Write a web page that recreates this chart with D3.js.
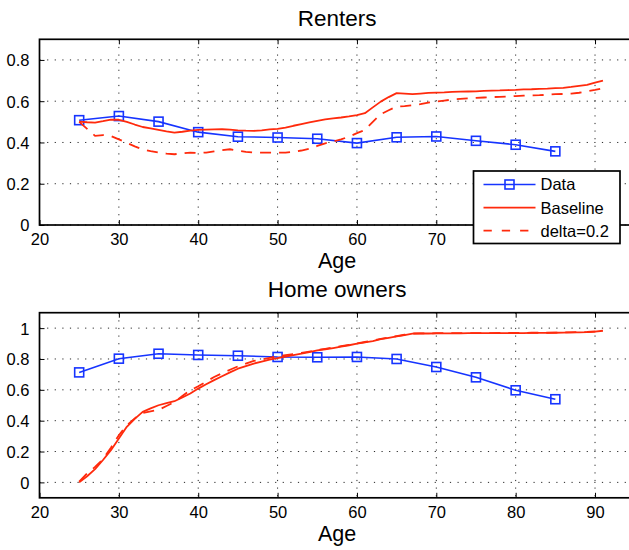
<!DOCTYPE html>
<html>
<head>
<meta charset="utf-8">
<script src="https://cdn.jsdelivr.net/npm/d3@7"></script>
<style>
  html, body { margin: 0; padding: 0; background: #fff; }
  svg { display: block; font-family: "Liberation Sans", Arial, Helvetica, sans-serif; }
</style>
</head>
<body>
<svg id="chart" width="629" height="550"></svg>
<script>
// Survey ages (five-year groups) and the model's yearly ages
const dataAges = [25, 30, 35, 40, 45, 50, 55, 60, 65, 70, 75, 80, 85];
const modelAges = [25, 26, 27, 28, 29, 30, 31, 32, 33, 34, 35, 36, 37, 38, 39, 40,
  41, 42, 43, 44, 45, 46, 47, 48, 49, 50, 51, 52, 53, 54, 55, 56, 57, 58, 59, 60,
  61, 62, 63, 64, 65, 66, 67, 68, 69, 70, 71, 72, 73, 74, 75, 76, 77, 78, 79, 80,
  81, 82, 83, 84, 85, 86, 87, 88, 89, 90, 91];

// Renters
const renterData = [0.508, 0.528, 0.501, 0.450, 0.428, 0.424, 0.418, 0.397, 0.425, 0.429, 0.408, 0.389, 0.357];
const renterBaseline = [0.501, 0.498, 0.496, 0.503, 0.511, 0.510, 0.500, 0.487, 0.475, 0.468,
  0.461, 0.454, 0.448, 0.452, 0.457, 0.461, 0.462, 0.463, 0.464, 0.462,
  0.459, 0.457, 0.456, 0.459, 0.463, 0.466, 0.472, 0.481, 0.489, 0.497,
  0.505, 0.512, 0.517, 0.521, 0.526, 0.533, 0.542, 0.570, 0.598, 0.620,
  0.639, 0.637, 0.634, 0.637, 0.640, 0.642, 0.643, 0.645, 0.646, 0.647,
  0.648, 0.650, 0.651, 0.652, 0.654, 0.655, 0.657, 0.658, 0.660, 0.661,
  0.663, 0.665, 0.669, 0.674, 0.679, 0.690, 0.700];
const renterDelta = [0.500, 0.466, 0.432, 0.436, 0.431, 0.415, 0.398, 0.381, 0.366, 0.358,
  0.351, 0.346, 0.343, 0.347, 0.351, 0.349, 0.351, 0.357, 0.363, 0.367,
  0.360, 0.354, 0.351, 0.351, 0.351, 0.351, 0.351, 0.355, 0.361, 0.370,
  0.383, 0.396, 0.404, 0.415, 0.428, 0.445, 0.460, 0.500, 0.537, 0.556,
  0.574, 0.576, 0.580, 0.586, 0.593, 0.598, 0.603, 0.608, 0.611, 0.614,
  0.616, 0.618, 0.620, 0.621, 0.623, 0.625, 0.627, 0.628, 0.629, 0.631,
  0.634, 0.635, 0.637, 0.641, 0.648, 0.655, 0.663];

// Home owners
const ownerData = [0.713, 0.802, 0.834, 0.826, 0.821, 0.813, 0.811, 0.813, 0.800, 0.748, 0.681, 0.597, 0.539];
const ownerBaseline = [0.000, 0.040, 0.086, 0.145, 0.209, 0.284, 0.360, 0.412, 0.457, 0.480,
  0.500, 0.513, 0.526, 0.550, 0.576, 0.608, 0.636, 0.663, 0.688, 0.713,
  0.737, 0.754, 0.770, 0.783, 0.795, 0.806, 0.816, 0.825, 0.834, 0.845,
  0.856, 0.863, 0.871, 0.880, 0.889, 0.899, 0.907, 0.916, 0.928, 0.937,
  0.946, 0.955, 0.964, 0.965, 0.965, 0.966, 0.966, 0.966, 0.966, 0.967,
  0.967, 0.967, 0.967, 0.968, 0.968, 0.968, 0.968, 0.969, 0.969, 0.969,
  0.970, 0.971, 0.972, 0.973, 0.974, 0.977, 0.983];
const ownerDelta = [0.005, 0.058, 0.100, 0.150, 0.225, 0.306, 0.370, 0.415, 0.450, 0.460,
  0.470, 0.495, 0.521, 0.560, 0.597, 0.623, 0.653, 0.683, 0.707, 0.730,
  0.752, 0.770, 0.787, 0.797, 0.807, 0.817, 0.825, 0.832, 0.839, 0.848,
  0.858, 0.866, 0.874, 0.883, 0.892, 0.901, 0.910, 0.919, 0.930, 0.939,
  0.948, 0.957, 0.965, 0.966, 0.966, 0.967, 0.967, 0.967, 0.967, 0.968,
  0.968, 0.968, 0.968, 0.969, 0.969, 0.969, 0.969, 0.970, 0.970, 0.970,
  0.971, 0.972, 0.973, 0.974, 0.975, 0.978, 0.984];

const xTicks = [20, 30, 40, 50, 60, 70, 80, 90];
const renterYTicks = [0, 0.2, 0.4, 0.6, 0.8];
const ownerYTicks = [0, 0.2, 0.4, 0.6, 0.8, 1];
const seriesNames = ["Data", "Baseline", "delta=0.2"];

const BLUE = "rgb(22,52,255)";
const RED = "rgb(255,42,12)";
const FONT_TICK = 16.5;

const svg = d3.select("#chart");

function panel(opts) {
  const { top, bottom, yDomain, yTicks, title, titleY, data, base, delta, legend } = opts;
  const left = 39.5, right = 634.7;
  const x = d3.scaleLinear().domain([20, 95]).range([left, right]);
  const y = d3.scaleLinear().domain(yDomain).range([bottom, top]);
  const g = svg.append("g");

  // dotted grid
  const grid = g.append("g").attr("stroke", "#2a2a2a").attr("stroke-width", 1)
    .attr("stroke-dasharray", "1.2,6.4");
  grid.selectAll("line.v").data(xTicks.slice(1)).join("line")
    .attr("x1", d => x(d)).attr("x2", d => x(d)).attr("y1", top).attr("y2", bottom);
  grid.selectAll("line.h").data(yTicks).join("line")
    .attr("x1", left).attr("x2", right).attr("y1", d => y(d)).attr("y2", d => y(d));

  // axes: bottom and left with inward ticks, top mirror ticks
  const xAxis = d3.axisBottom(x).tickValues(xTicks).tickFormat(d3.format("d"))
    .tickSizeInner(-5).tickSizeOuter(0).tickPadding(12);
  const gx = g.append("g").attr("transform", `translate(0,${bottom})`).call(xAxis);
  const xTop = d3.axisTop(x).tickValues(xTicks.slice(1)).tickFormat("")
    .tickSizeInner(-5).tickSizeOuter(0);
  const gxt = g.append("g").attr("transform", `translate(0,${top})`).call(xTop);
  const yAxis = d3.axisLeft(y).tickValues(yTicks).tickFormat(d => d === 0 ? "0" : d === 1 ? "1" : d3.format(".1f")(d))
    .tickSizeInner(-5).tickSizeOuter(0).tickPadding(10);
  const gy = g.append("g").attr("transform", `translate(${left},0)`).call(yAxis);
  [gx, gxt, gy].forEach(a => {
    a.select(".domain").remove();
    a.selectAll(".tick line").attr("stroke", "#000").attr("stroke-width", 1);
    a.selectAll("text").attr("fill", "#000").attr("font-size", FONT_TICK)
      .attr("font-family", "Liberation Sans, Arial, sans-serif");
  });
  gx.selectAll("text").attr("dy", "0.78em").attr("y", 7);
  gy.selectAll("text").attr("dy", "0.36em");

  // frame
  g.append("rect").attr("x", left).attr("y", top).attr("width", right - left).attr("height", bottom - top)
    .attr("fill", "none").attr("stroke", "#000").attr("stroke-width", 1.7);

  const line = d3.line().x(d => x(d[0])).y(d => y(d[1]));
  const plot = g.append("g");
  plot.append("path").datum(d3.zip(dataAges, data)).attr("d", line)
    .attr("fill", "none").attr("stroke", BLUE).attr("stroke-width", 1.6);
  plot.selectAll("rect.mk").data(d3.zip(dataAges, data)).join("rect")
    .attr("x", d => x(d[0]) - 4.5).attr("y", d => y(d[1]) - 4.5)
    .attr("width", 9).attr("height", 9)
    .attr("fill", "none").attr("stroke", BLUE).attr("stroke-width", 1.6);
  plot.append("path").datum(d3.zip(modelAges, base)).attr("d", line)
    .attr("fill", "none").attr("stroke", RED).attr("stroke-width", 1.8).attr("stroke-linejoin", "round");
  plot.append("path").datum(d3.zip(modelAges, delta)).attr("d", line)
    .attr("fill", "none").attr("stroke", RED).attr("stroke-width", 1.8)
    .attr("stroke-dasharray", "11,8");

  // title and x label
  const cx = (left + right) / 2;
  g.append("text").attr("x", cx).attr("y", titleY).attr("text-anchor", "middle")
    .attr("font-size", 22.5).text(title);
  g.append("text").attr("x", cx).attr("y", bottom + 43).attr("text-anchor", "middle")
    .attr("font-size", 21.5).text("Age");

  if (legend) {
    const lx = 473.5, ly = 171, lw = 146.5, lh = 72.5;
    // tick labels lying beneath the opaque legend box are not drawn
    gx.selectAll(".tick").filter(d => x(d) > lx && x(d) < lx + lw).select("text").remove();

    const lg = g.append("g").attr("transform", `translate(${lx},${ly})`);
    lg.append("rect").attr("width", lw).attr("height", lh)
      .attr("fill", "#fff").attr("stroke", "#000").attr("stroke-width", 1.7);
    const rows = [13.5, 36.7, 59.7];
    const styles = [
      { stroke: BLUE, dash: null, marker: true },
      { stroke: RED, dash: null, marker: false },
      { stroke: RED, dash: "8.3,10", marker: false }
    ];
    seriesNames.forEach((name, i) => {
      const s = styles[i];
      lg.append("line").attr("x1", 10).attr("x2", 62).attr("y1", rows[i]).attr("y2", rows[i])
        .attr("stroke", s.stroke).attr("stroke-width", 1.7)
        .attr("stroke-dasharray", s.dash);
      if (s.marker) {
        lg.append("rect").attr("x", 36 - 4.5).attr("y", rows[i] - 4.5).attr("width", 9).attr("height", 9)
          .attr("fill", "none").attr("stroke", BLUE).attr("stroke-width", 1.6);
      }
      lg.append("text").attr("x", 67).attr("y", rows[i]).attr("dy", "0.36em")
        .attr("font-size", FONT_TICK).text(name);
    });
  }
}

panel({ top: 39.3, bottom: 225, yDomain: [0, 0.9], yTicks: renterYTicks, title: "Renters", titleY: 26,
  data: renterData, base: renterBaseline, delta: renterDelta, legend: true });
panel({ top: 312.7, bottom: 497.8, yDomain: [-0.1, 1.1], yTicks: ownerYTicks, title: "Home owners", titleY: 297,
  data: ownerData, base: ownerBaseline, delta: ownerDelta, legend: false });
</script>
</body>
</html>
